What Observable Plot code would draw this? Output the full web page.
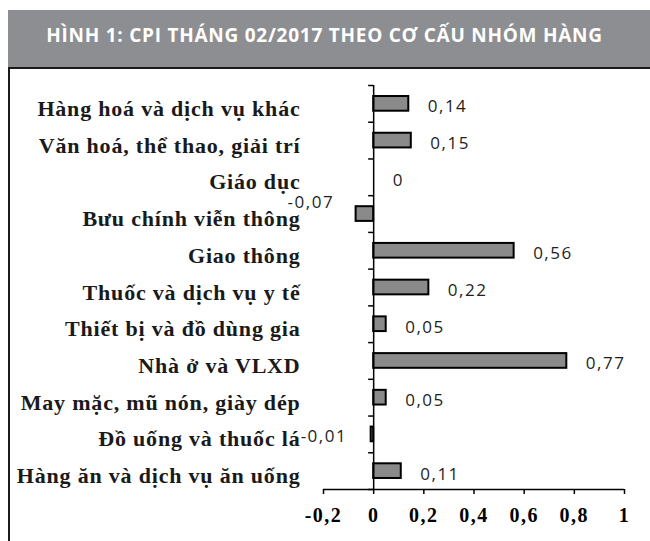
<!DOCTYPE html>
<html>
<head>
<meta charset="utf-8">
<script src="https://cdn.jsdelivr.net/npm/d3@7"></script>
<script src="https://cdn.jsdelivr.net/npm/@observablehq/plot@0.6"></script>
<style>
  body { margin:0; width:650px; height:541px; position:relative; background:#fff; overflow:hidden; }
  #title { position:absolute; left:8px; top:10px; width:642px; height:57px; background:#8d8e91; color:#fff;
    font-family:"Open Sans","DejaVu Sans",sans-serif; font-weight:bold; font-size:19px; letter-spacing:0.75px;
    display:flex; align-items:center; justify-content:center; padding-right:9px; padding-bottom:7px; box-sizing:border-box; }
  #frame { position:absolute; left:8px; top:67px; width:642px; height:474px; border-left:2px solid #1a1a1a; border-top:2px solid #1a1a1a; box-sizing:border-box; }
  #chart { position:absolute; left:10px; top:69px; }
</style>
</head>
<body>
<div id="title">HÌNH 1: CPI THÁNG 02/2017 THEO CƠ CẤU NHÓM HÀNG</div>
<div id="frame"></div>
<div id="chart"></div>
<script>
// Categories, top to bottom as shown
const categories = [
  "Hàng hoá và dịch vụ khác",
  "Văn hoá, thể thao, giải trí",
  "Giáo dục",
  "Bưu chính viễn thông",
  "Giao thông",
  "Thuốc và dịch vụ y tế",
  "Thiết bị và đồ dùng gia",
  "Nhà ở và VLXD",
  "May mặc, mũ nón, giày dép",
  "Đồ uống và thuốc lá",
  "Hàng ăn và dịch vụ ăn uống"
];
const values = [0.14, 0.15, 0, -0.07, 0.56, 0.22, 0.05, 0.77, 0.05, -0.01, 0.11];
const xTicks = [-0.2, 0, 0.2, 0.4, 0.6, 0.8, 1];

const data = categories.map((c, i) => ({name: c, i, value: values[i]}));
const fmt = v => String(v).replace(".", ",");
const boundaries = d3.range(categories.length + 1).map(k => k - 0.5);
const raised = new Set(["Bưu chính viễn thông"]);
const valueFont = {fontFamily: "Open Sans, sans-serif", fontSize: 17, fill: "#1e1e1e"};

const chart = Plot.plot({
  width: 640,
  height: 472,
  marginLeft: 313,
  marginRight: 26,
  marginTop: 16,
  marginBottom: 52,
  style: {background: "transparent"},
  x: {domain: [-0.2, 1]},
  y: {domain: [-0.5, categories.length - 0.5], reverse: true},
  marks: [
    Plot.rectX(data, {
      x1: 0, x2: "value",
      y1: d => d.i - 0.2, y2: d => d.i + 0.2,
      fill: "#8a8a8a", stroke: "#000", strokeWidth: 2
    }),
    // Y axis line and boundary ticks
    Plot.ruleX([0], {y1: -0.5, y2: categories.length - 0.5, stroke: "#000", strokeWidth: 1.5}),
    Plot.ruleY(boundaries, {y: d => d, x1: -0.02, x2: 0, stroke: "#000", strokeWidth: 1.5}),
    // X axis line
    Plot.ruleY([categories.length - 0.5], {x1: -0.2, x2: 1, stroke: "#000", strokeWidth: 1.5}),
    Plot.axisX({
      ticks: xTicks, tickSize: 5, tickPadding: 13, tickFormat: fmt,
      stroke: "#000", strokeWidth: 1.5, strokeOpacity: 1,
      fontFamily: "Liberation Serif, Times New Roman, serif", fontWeight: "bold", fontSize: 20,
      fill: "#000", label: null
    }),
    Plot.axisY({
      ticks: d3.range(categories.length), tickSize: 0, tickPadding: 23, dy: 5,
      tickFormat: i => categories[i],
      fontFamily: "Liberation Serif, Times New Roman, serif", fontSize: 22, fontWeight: "bold",
      fill: "#1a1a1a", label: null
    }),
    // Value labels
    Plot.text(data.filter(d => d.value >= 0), {
      x: "value", y: "i", text: d => fmt(d.value),
      textAnchor: "start", dx: 19, dy: 3, ...valueFont
    }),
    Plot.text(data.filter(d => d.value < 0 && !raised.has(d.name)), {
      x: "value", y: "i", text: d => fmt(d.value),
      textAnchor: "end", dx: -24, dy: 2, ...valueFont
    }),
    Plot.text(data.filter(d => d.value < 0 && raised.has(d.name)), {
      x: "value", y: "i", text: d => fmt(d.value),
      textAnchor: "end", dx: -22, dy: -11, ...valueFont
    })
  ]
});
document.getElementById("chart").appendChild(chart);

// letter spacing to mimic the stretched look of the original
d3.select(chart).selectAll("[aria-label='y-axis tick label'] text").style("letter-spacing", "0.8px");
d3.select(chart).selectAll("[aria-label='x-axis tick label'] text").style("letter-spacing", "1.5px");
d3.select(chart).selectAll("[aria-label='text'] text").style("letter-spacing", "1.5px");
</script>
</body>
</html>
